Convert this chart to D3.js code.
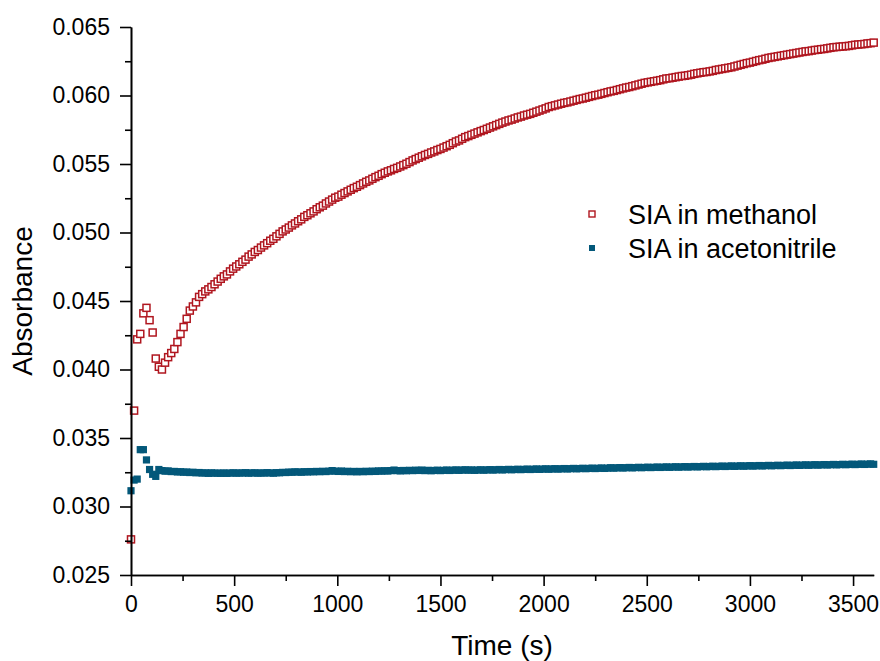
<!DOCTYPE html>
<html>
<head>
<meta charset="utf-8">
<script src="https://cdn.jsdelivr.net/npm/d3@7"></script>
<style>
  body { margin: 0; background: #fff; }
  svg text { font-family: Arial, "Liberation Sans", sans-serif; fill: #000; }
</style>
</head>
<body>
<svg id="chart" width="880" height="661"></svg>
<script>
// ---- data ----
const timeStep = 15; // seconds between samples, first sample at t = 0
const seriesNames = ["SIA in methanol", "SIA in acetonitrile"];
const methanol = [
  0.0276, 0.0370, 0.0422, 0.0426, 0.0441, 0.0445, 0.0436, 0.0427, 0.0408, 0.0402,
  0.0400, 0.0405, 0.0409, 0.0412, 0.0415, 0.0420, 0.0426, 0.0431, 0.0437, 0.0443,
  0.0446, 0.0449, 0.0453, 0.0455, 0.04570, 0.04585, 0.04602, 0.04622, 0.04642, 0.04662,
  0.04680, 0.04694, 0.04716, 0.04736, 0.04752, 0.04768, 0.04786, 0.04802, 0.04824, 0.04840,
  0.04858, 0.04872, 0.04890, 0.04906, 0.04922, 0.04940, 0.04954, 0.04972, 0.04990, 0.05008,
  0.05022, 0.05036, 0.05052, 0.05066, 0.05082, 0.05096, 0.05114, 0.05126, 0.05140, 0.05154,
  0.05170, 0.05184, 0.05196, 0.05212, 0.05226, 0.05240, 0.05254, 0.05262, 0.05276, 0.05288,
  0.05300, 0.05312, 0.05324, 0.05334, 0.05346, 0.05358, 0.05370, 0.05380, 0.05392, 0.05404,
  0.05414, 0.05426, 0.05436, 0.05446, 0.05454, 0.05464, 0.05472, 0.05482, 0.05492, 0.05502,
  0.05514, 0.05526, 0.05536, 0.05546, 0.05556, 0.05566, 0.05574, 0.05584, 0.05592, 0.05602,
  0.05610, 0.05620, 0.05630, 0.05640, 0.05652, 0.05664, 0.05672, 0.05684, 0.05696, 0.05704,
  0.05713, 0.05722, 0.05731, 0.05740, 0.05748, 0.05757, 0.05766, 0.05775, 0.05784, 0.05793,
  0.05802, 0.05810, 0.05818, 0.05824, 0.05832, 0.05840, 0.05846, 0.05854, 0.05860, 0.05866,
  0.05874, 0.05882, 0.05890, 0.05898, 0.05906, 0.05916, 0.05922, 0.05928, 0.05934, 0.05940,
  0.05946, 0.05950, 0.05956, 0.05962, 0.05968, 0.05974, 0.05978, 0.05984, 0.05990, 0.05996,
  0.06002, 0.06006, 0.06012, 0.06018, 0.06024, 0.06030, 0.06034, 0.06040, 0.06046, 0.06052,
  0.06058, 0.06062, 0.06068, 0.06074, 0.06080, 0.06086, 0.06092, 0.06096, 0.06100, 0.06104,
  0.06108, 0.06112, 0.06118, 0.06124, 0.06126, 0.06130, 0.06134, 0.06138, 0.06142, 0.06144,
  0.06148, 0.06152, 0.06158, 0.06162, 0.06166, 0.06170, 0.06172, 0.06176, 0.06180, 0.06186,
  0.06190, 0.06194, 0.06198, 0.06202, 0.06206, 0.06212, 0.06218, 0.06224, 0.06230, 0.06236,
  0.06240, 0.06246, 0.06252, 0.06258, 0.06262, 0.06268, 0.06274, 0.06278, 0.06282, 0.06286,
  0.06290, 0.06294, 0.06298, 0.06302, 0.06306, 0.06310, 0.06314, 0.06318, 0.06322, 0.06324,
  0.06328, 0.06332, 0.06334, 0.06338, 0.06340, 0.06344, 0.06348, 0.06352, 0.06354, 0.06356,
  0.06358, 0.06360, 0.06362, 0.06366, 0.06370, 0.06372, 0.06374, 0.06376, 0.06380, 0.06382,
  0.06386
];
const acetonitrile = [
  0.03115, 0.03193, 0.03200, 0.03415, 0.03415, 0.03340, 0.03270, 0.03235, 0.03220, 0.03270,
  0.03262, 0.03258, 0.03260, 0.03255, 0.03256, 0.03252, 0.03254, 0.03250, 0.03252, 0.03248,
  0.03250, 0.03246, 0.03248, 0.03244, 0.03246, 0.03242, 0.03246, 0.03243, 0.03244, 0.03242,
  0.03245, 0.03242, 0.03244, 0.03246, 0.03243, 0.03245, 0.03244, 0.03247, 0.03243, 0.03245,
  0.03246, 0.03243, 0.03245, 0.03244, 0.03247, 0.03245, 0.03243, 0.03247, 0.03246, 0.03249,
  0.03248, 0.03251, 0.03250, 0.03253, 0.03252, 0.03250, 0.03254, 0.03252, 0.03255, 0.03253,
  0.03256, 0.03254, 0.03257, 0.03255, 0.03258, 0.03262, 0.03258, 0.03256, 0.03259, 0.03255,
  0.03257, 0.03254, 0.03256, 0.03253, 0.03256, 0.03254, 0.03257, 0.03255, 0.03258, 0.03256,
  0.03260, 0.03258, 0.03261, 0.03259, 0.03262, 0.03266, 0.03262, 0.03260, 0.03263, 0.03261,
  0.03264, 0.03262, 0.03265, 0.03263, 0.03266, 0.03262, 0.03264, 0.03261, 0.03263, 0.03265,
  0.03262, 0.03264, 0.03266, 0.03263, 0.03265, 0.03267, 0.03264, 0.03266, 0.03268, 0.03265,
  0.03267, 0.03264, 0.03266, 0.03268, 0.03265, 0.03267, 0.03269, 0.03266, 0.03268, 0.03270,
  0.03267, 0.03269, 0.03271, 0.03268, 0.03270, 0.03272, 0.03269, 0.03271, 0.03273, 0.03270,
  0.03272, 0.03274, 0.03271, 0.03273, 0.03275, 0.03272, 0.03274, 0.03276, 0.03273, 0.03275,
  0.03277, 0.03274, 0.03276, 0.03278, 0.03275, 0.03277, 0.03279, 0.03276, 0.03278, 0.03280,
  0.03277, 0.03279, 0.03281, 0.03278, 0.03280, 0.03283, 0.03280, 0.03282, 0.03284, 0.03281,
  0.03283, 0.03285, 0.03282, 0.03284, 0.03286, 0.03283, 0.03285, 0.03287, 0.03284, 0.03286,
  0.03288, 0.03285, 0.03287, 0.03289, 0.03286, 0.03288, 0.03290, 0.03287, 0.03289, 0.03291,
  0.03288, 0.03290, 0.03292, 0.03289, 0.03291, 0.03293, 0.03290, 0.03292, 0.03294, 0.03291,
  0.03293, 0.03295, 0.03292, 0.03294, 0.03296, 0.03293, 0.03295, 0.03297, 0.03294, 0.03296,
  0.03298, 0.03295, 0.03297, 0.03299, 0.03296, 0.03298, 0.03300, 0.03297, 0.03299, 0.03301,
  0.03298, 0.03300, 0.03302, 0.03299, 0.03301, 0.03303, 0.03300, 0.03302, 0.03304, 0.03301,
  0.03303, 0.03305, 0.03302, 0.03304, 0.03306, 0.03303, 0.03305, 0.03307, 0.03304, 0.03306,
  0.03308, 0.03305, 0.03307, 0.03309, 0.03306, 0.03308, 0.03310, 0.03307, 0.03309, 0.03311,
  0.03308
];
const xTicks = [0, 500, 1000, 1500, 2000, 2500, 3000, 3500];
const xMinorTicks = [250, 750, 1250, 1750, 2250, 2750, 3250];
const yTicks = [0.025, 0.030, 0.035, 0.040, 0.045, 0.050, 0.055, 0.060, 0.065];
const yMinorTicks = [0.0275, 0.0325, 0.0375, 0.0425, 0.0475, 0.0525, 0.0575, 0.0625];
const xTitle = "Time (s)";
const yTitle = "Absorbance";

// ---- chart ----
const svg = d3.select("#chart");
const x = d3.scaleLinear().domain([0, 3600]).range([131, 873.7]);
const y = d3.scaleLinear().domain([0.025, 0.065]).range([575, 27]);

const red = "#b0161f", blue = "#03587a";
const toPts = arr => arr.map((v, i) => ({ t: i * timeStep, v }));

// markers
svg.append("g").selectAll("rect").data(toPts(methanol)).join("rect")
  .attr("x", d => x(d.t) - 3.5).attr("y", d => y(d.v) - 3.5)
  .attr("width", 7).attr("height", 7)
  .attr("fill", "#fff").attr("stroke", red).attr("stroke-width", 1.5);

svg.append("g").selectAll("rect").data(toPts(acetonitrile)).join("rect")
  .attr("x", d => x(d.t) - 3.6).attr("y", d => y(d.v) - 3.6)
  .attr("width", 7.2).attr("height", 7.2)
  .attr("fill", blue);

// axes
function styleAxis(g) {
  g.select(".domain").attr("stroke", "#000").attr("stroke-width", 1.6);
  g.selectAll(".tick line").attr("stroke", "#000").attr("stroke-width", 1.6);
  g.selectAll("text").style("font-size", "23px").attr("fill", "#000");
}
const xAxisG = svg.append("g").attr("transform", "translate(0,575)")
  .call(d3.axisBottom(x).tickValues(xTicks).tickSize(11).tickPadding(10).tickSizeOuter(0)
    .tickFormat(d3.format("d")));
styleAxis(xAxisG);
const xMinorG = svg.append("g").attr("transform", "translate(0,575)")
  .call(d3.axisBottom(x).tickValues(xMinorTicks).tickSize(6).tickFormat("").tickSizeOuter(0));
styleAxis(xMinorG);

const yAxisG = svg.append("g").attr("transform", "translate(131,0)")
  .call(d3.axisLeft(y).tickValues(yTicks).tickSize(11).tickPadding(10).tickSizeOuter(0)
    .tickFormat(d3.format(".3f")));
styleAxis(yAxisG);
const yMinorG = svg.append("g").attr("transform", "translate(131,0)")
  .call(d3.axisLeft(y).tickValues(yMinorTicks).tickSize(6).tickFormat("").tickSizeOuter(0));
styleAxis(yMinorG);

// titles
svg.append("text").attr("x", 502).attr("y", 655).attr("text-anchor", "middle")
  .style("font-size", "28px").text(xTitle);
svg.append("text").attr("transform", "translate(32,301) rotate(-90)")
  .attr("text-anchor", "middle").style("font-size", "28px").text(yTitle);

// legend
const legend = svg.append("g");
const legendRows = [
  { name: seriesNames[0], y: 214, hollow: true, color: red },
  { name: seriesNames[1], y: 248, hollow: false, color: blue }
];
legendRows.forEach(r => {
  legend.append("rect").attr("x", 589).attr("y", r.y - 3).attr("width", 6).attr("height", 6)
    .attr("fill", r.hollow ? "#fff" : r.color)
    .attr("stroke", r.hollow ? r.color : "none").attr("stroke-width", 1.4);
  legend.append("text").attr("x", 628).attr("y", r.y + 10).style("font-size", "27px").text(r.name);
});
</script>
</body>
</html>
